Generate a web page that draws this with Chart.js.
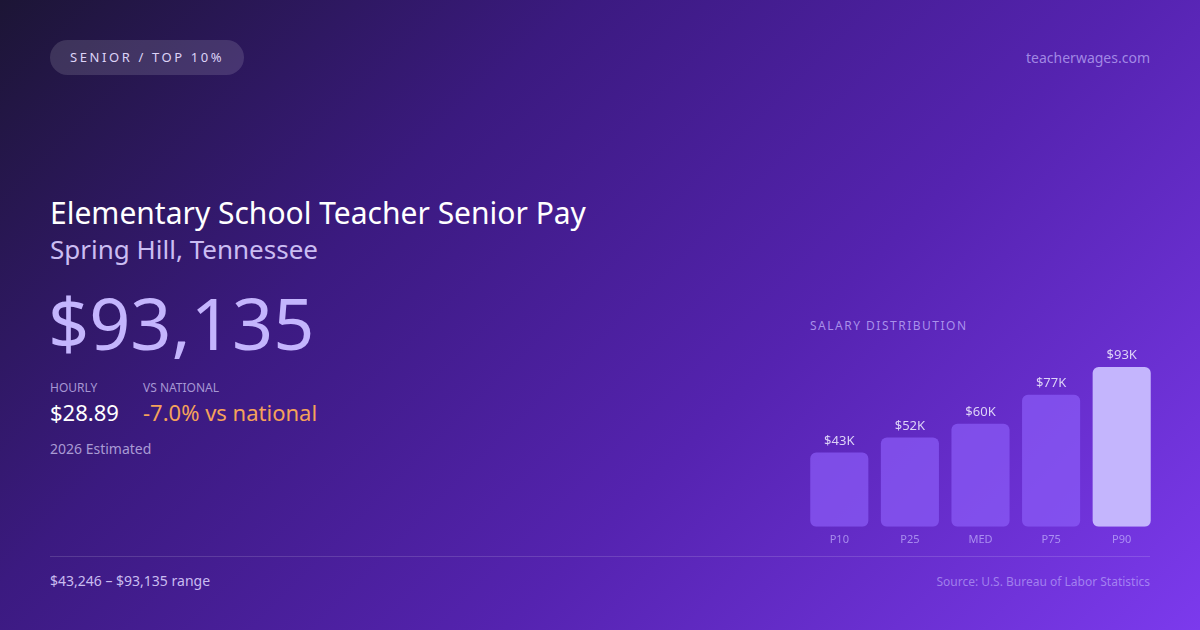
<!DOCTYPE html>
<html>
<head>
<meta charset="utf-8">
<script src="https://cdn.jsdelivr.net/npm/chart.js@4"></script>
<style>
  html, body { margin: 0; padding: 0; }
  body {
    width: 1200px; height: 630px; overflow: hidden; position: relative;
    font-family: "Noto Sans", "Open Sans", sans-serif;
    background: linear-gradient(135deg, #1c1535 0%, #3b1a80 32%, #5523b0 62%, #7c3aed 100%);
    color: #fff;
  }
  .abs { position: absolute; white-space: nowrap; }
  .pill {
    left: 50px; top: 40px; height: 35px; line-height: 35px; padding: 0 20px;
    border-radius: 18px; background: rgba(255,255,255,0.13);
    font-size: 13px; letter-spacing: 2.6px; color: #ddd3f7;
  }
  .site { right: 50px; top: 48px; font-size: 14px; color: rgba(196,181,253,0.7); }
  .title { left: 50px; top: 192px; font-size: 30px; color: #fff; }
  .sub { left: 50px; top: 231px; font-size: 26px; color: #cbbdf2; }
  .big { left: 48px; top: 283px; font-size: 72px; color: #c4b5fd; line-height: 1.1; }
  .lbl { top: 379px; font-size: 12px; color: #a697d3; }
  .val { top: 397px; font-size: 22px; }
  .est { left: 50px; top: 439px; font-size: 14px; color: #a99bd4; }
  .rule { left: 50px; top: 556px; width: 1100px; height: 1px; background: rgba(255,255,255,0.14); }
  .range { left: 50px; top: 571px; font-size: 14px; color: #c9bcf0; }
  .src { right: 50px; top: 573px; font-size: 12px; color: rgba(196,181,253,0.6); }
  .dist { left: 810px; top: 317px; font-size: 12px; letter-spacing: 1.5px; color: rgba(196,181,253,0.75); }
  #wrap { position: absolute; left: 804px; top: 340px; width: 353px; height: 212px; }
</style>
</head>
<body>
<div class="abs pill">SENIOR / TOP 10%</div>
<div class="abs site">teacherwages.com</div>
<div class="abs title">Elementary School Teacher Senior Pay</div>
<div class="abs sub">Spring Hill, Tennessee</div>
<div class="abs big">$93,135</div>
<div class="abs lbl" style="left:50px">HOURLY</div>
<div class="abs lbl" style="left:143px">VS NATIONAL</div>
<div class="abs val" style="left:50px;color:#fff">$28.89</div>
<div class="abs val" style="left:143px;color:#f5a25a">-7.0% vs national</div>
<div class="abs est">2026 Estimated</div>
<div class="abs dist">SALARY DISTRIBUTION</div>
<div id="wrap"><canvas id="canvas"></canvas></div>
<div class="abs rule"></div>
<div class="abs range">$43,246 – $93,135 range</div>
<div class="abs src">Source: U.S. Bureau of Labor Statistics</div>

<script>
const labels = ['P10', 'P25', 'MED', 'P75', 'P90']
const salaries = [43246, 52000, 60000, 77000, 93135]
const valueLabels = ['$43K', '$52K', '$60K', '$77K', '$93K']

// value text above each bar
const topLabels = {
  id: 'topLabels',
  afterDatasetsDraw(chart) {
    const ctx = chart.ctx
    const meta = chart.getDatasetMeta(0)
    ctx.save()
    ctx.font = '13px "Noto Sans"'
    ctx.fillStyle = '#ddd3f7'
    ctx.textAlign = 'center'
    ctx.textBaseline = 'bottom'
    meta.data.forEach((bar, i) => {
      ctx.fillText(valueLabels[i], bar.x, bar.y - 5)
    })
    ctx.restore()
  },
}

const data = {
  labels: labels,
  datasets: [
    {
      data: salaries,
      backgroundColor: ['rgba(139,92,246,0.72)', 'rgba(139,92,246,0.72)', 'rgba(139,92,246,0.72)', 'rgba(139,92,246,0.72)', '#c4b5fd'],
      borderRadius: 6,
      borderSkipped: false,
      barPercentage: 0.823,
      categoryPercentage: 1,
    },
  ],
}

const config = {
  type: 'bar',
  data: data,
  plugins: [topLabels],
  options: {
    responsive: true,
    maintainAspectRatio: false,
    animation: false,
    layout: { padding: { top: 27, left: 0, right: 0, bottom: 0 } },
    plugins: { legend: { display: false }, tooltip: { enabled: false } },
    scales: {
      x: {
        grid: { display: false, drawTicks: false },
        border: { display: false },
        ticks: { color: 'rgba(196,181,253,0.7)', font: { family: 'Noto Sans', size: 11 }, padding: 6 },
      },
      y: {
        display: false,
        min: 0,
        max: 93135,
      },
    },
  },
}

const canvas = document.getElementById('canvas')
const chart = new Chart(canvas, config)
</script>
</body>
</html>
